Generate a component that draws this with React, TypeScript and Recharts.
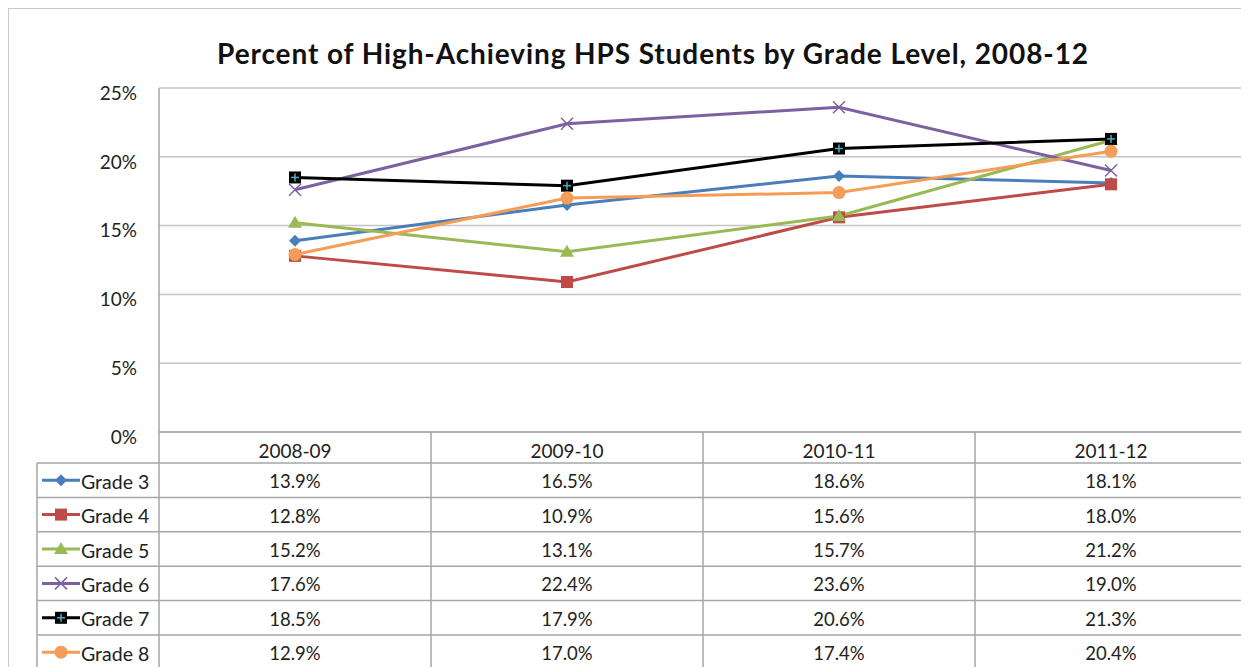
import { LineChart, Line, XAxis, YAxis, CartesianGrid } from "recharts";

const years = ["2008-09", "2009-10", "2010-11", "2011-12"];
const grade3 = [13.9, 16.5, 18.6, 18.1];
const grade4 = [12.8, 10.9, 15.6, 18.0];
const grade5 = [15.2, 13.1, 15.7, 21.2];
const grade6 = [17.6, 22.4, 23.6, 19.0];
const grade7 = [18.5, 17.9, 20.6, 21.3];
const grade8 = [12.9, 17.0, 17.4, 20.4];
const yTicks = [0, 5, 10, 15, 20, 25];

const series = [
  { name: "Grade 3", values: grade3, color: "#4a7ebb", marker: "diamond" },
  { name: "Grade 4", values: grade4, color: "#be4b48", marker: "square" },
  { name: "Grade 5", values: grade5, color: "#98b954", marker: "triangle" },
  { name: "Grade 6", values: grade6, color: "#7d60a0", marker: "x" },
  { name: "Grade 7", values: grade7, color: "#000000", marker: "squarePlus" },
  { name: "Grade 8", values: grade8, color: "#f59d56", marker: "circle" },
];

const data = years.map((year, i) => {
  const row: Record<string, number | string> = { year };
  series.forEach((s) => (row[s.name] = s.values[i]));
  return row;
});

const CHART_W = 1240;
const CHART_H = 658;
const PLOT_BOTTOM = 423;
const COL_HALF = 136;
const HEADER_H = 31;
const ROW_H = 34.4;
const LEGEND_W = 122;
const LINE_COLOR = "#a6a6a6";
const FONT = "Lato, 'Open Sans', sans-serif";

function Marker({ kind, cx, cy, color }: { kind: string; cx: number; cy: number; color: string }) {
  switch (kind) {
    case "diamond":
      return <polygon points={`${cx},${cy - 6} ${cx + 6},${cy} ${cx},${cy + 6} ${cx - 6},${cy}`} fill={color} />;
    case "square":
      return <rect x={cx - 6} y={cy - 6} width={12} height={12} fill={color} />;
    case "triangle":
      return <polygon points={`${cx},${cy - 7} ${cx + 7},${cy + 5} ${cx - 7},${cy + 5}`} fill={color} />;
    case "x":
      return (
        <g stroke={color} strokeWidth={1.5}>
          <line x1={cx - 6} y1={cy - 6} x2={cx + 6} y2={cy + 6} />
          <line x1={cx - 6} y1={cy + 6} x2={cx + 6} y2={cy - 6} />
        </g>
      );
    case "squarePlus":
      return (
        <g>
          <rect x={cx - 6} y={cy - 6} width={12} height={12} fill="#000" />
          <line x1={cx - 4} y1={cy} x2={cx + 4} y2={cy} stroke="#4bacc6" strokeWidth={1.5} />
          <line x1={cx} y1={cy - 4} x2={cx} y2={cy + 4} stroke="#4bacc6" strokeWidth={1.5} />
        </g>
      );
    default:
      return <circle cx={cx} cy={cy} r={6.5} fill={color} />;
  }
}

// each x tick draws one column of the data table (plus the legend column for the first one)
function TableColumn(props: any) {
  const { x, payload } = props;
  const col = years.indexOf(payload.value);
  const left = x - COL_HALF;
  const right = x + COL_HALF;
  const tableBottom = PLOT_BOTTOM + HEADER_H + ROW_H * series.length;
  const rows = series.map((s, r) => {
    const top = PLOT_BOTTOM + HEADER_H + ROW_H * r;
    return (
      <g key={s.name}>
        <line x1={left} y1={top} x2={right} y2={top} stroke={LINE_COLOR} strokeWidth={1.5} />
        <text x={x} y={top + ROW_H / 2 + 1} textAnchor="middle" dominantBaseline="central" fontSize={18.5} fill="#222" fontFamily={FONT}>
          {s.values[col].toFixed(1)}%
        </text>
      </g>
    );
  });
  let legend = null;
  if (col === 0) {
    const lx = left - LEGEND_W;
    legend = (
      <g>
        <line x1={lx} y1={PLOT_BOTTOM + HEADER_H} x2={lx} y2={tableBottom} stroke={LINE_COLOR} strokeWidth={1.5} />
        {series.map((s, r) => {
          const top = PLOT_BOTTOM + HEADER_H + ROW_H * r;
          const cy = top + ROW_H / 2;
          return (
            <g key={s.name}>
              <line x1={lx} y1={top} x2={left} y2={top} stroke={LINE_COLOR} strokeWidth={1.5} />
              <line x1={lx + 5} y1={cy} x2={lx + 43} y2={cy} stroke={s.color} strokeWidth={3} />
              <Marker kind={s.marker} cx={lx + 24} cy={cy} color={s.color} />
              <text x={lx + 44} y={cy + 1} dominantBaseline="central" fontSize={19.5} fill="#222" fontFamily={FONT}>
                {s.name}
              </text>
            </g>
          );
        })}
      </g>
    );
  }
  return (
    <g>
      <line x1={left} y1={PLOT_BOTTOM} x2={left} y2={tableBottom} stroke={LINE_COLOR} strokeWidth={1.5} />
      <text x={x} y={PLOT_BOTTOM + HEADER_H / 2 + 3} textAnchor="middle" dominantBaseline="central" fontSize={19} fill="#222" fontFamily={FONT}>
        {payload.value}
      </text>
      {rows}
      {legend}
    </g>
  );
}

export default function App() {
  return (
    <div
      style={{
        position: "relative",
        width: 1240,
        height: 658,
        borderTop: "1px solid #c8c8c8",
        borderLeft: "1px solid #c8c8c8",
        background: "#fff",
        overflow: "hidden",
      }}
    >
      <div
        style={{
          position: "absolute",
          left: 144,
          top: 28,
          width: 1000,
          textAlign: "center",
          fontFamily: FONT,
          fontWeight: 700,
          fontSize: 28,
          letterSpacing: 0.9,
          lineHeight: 1.2,
          color: "#111",
        }}
      >
        Percent of High-Achieving HPS Students by Grade Level, 2008-12
      </div>
      <LineChart width={CHART_W} height={CHART_H} data={data} margin={{ top: 79, right: 2, left: 90, bottom: 205 }}>
        <CartesianGrid vertical={false} stroke="#c4c4c4" strokeWidth={1.5} />
        <XAxis
          dataKey="year"
          height={30}
          padding={{ left: COL_HALF, right: COL_HALF }}
          axisLine={{ stroke: LINE_COLOR, strokeWidth: 1.5 }}
          tickLine={false}
          tick={<TableColumn />}
          interval={0}
        />
        <YAxis
          width={60}
          domain={[0, 25]}
          ticks={yTicks}
          tickFormatter={(v) => `${v}%`}
          axisLine={{ stroke: LINE_COLOR, strokeWidth: 1.5 }}
          tickLine={false}
          tickMargin={16}
          tick={{ fontSize: 19, fill: "#222", fontFamily: FONT, dy: 5 }}
        />
        {series.map((s) => (
          <Line
            key={s.name}
            dataKey={s.name}
            stroke={s.color}
            strokeWidth={3}
            isAnimationActive={false}
            dot={(p: any) => <Marker key={`${s.name}-${p.index}`} kind={s.marker} cx={p.cx} cy={p.cy} color={s.color} />}
            activeDot={false}
          />
        ))}
      </LineChart>
    </div>
  );
}
